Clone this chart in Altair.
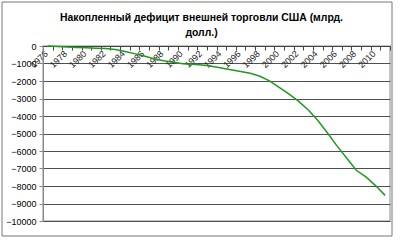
import altair as alt
import pandas as pd

years = list(range(1976, 2012))
deficit = [-6, -33, -63, -88, -107, -123, -148, -205, -314, -436, -575, -726,
           -841, -934, -1015, -1046, -1085, -1156, -1254, -1351, -1455, -1563,
           -1729, -1992, -2371, -2733, -3151, -3642, -4247, -4955, -5708, -6405,
           -7103, -7482, -7977, -8537]
y_ticks = list(range(-10000, 1, 1000))
label_years = list(range(1976, 2011, 2))
tick_years = list(range(1976, 2013))

df = pd.DataFrame({"year": years, "value": deficit})

W, H = 347, 175
FONT = "Liberation Sans"

base = alt.Chart(df).transform_calculate(xpos="datum.year + 0.5")

y = alt.Y("value:Q", scale=alt.Scale(domain=[-10000, 0], nice=False),
          axis=alt.Axis(values=y_ticks, format="d", title=None, grid=True,
                        gridColor="#505050", gridWidth=1, tickSize=4, labelPadding=3,
                        labelFontSize=9, labelColor="#000", labelFont=FONT,
                        domainColor="#888", tickColor="#888",
                        labelOverlap=False, labelFlush=False))

xscale = alt.Scale(domain=[1976, 2012], nice=False, zero=False)

line = base.mark_line(color="#1f9a1f", strokeWidth=1.5).encode(
    x=alt.X("xpos:Q", scale=xscale,
            axis=alt.Axis(values=tick_years, labels=False, title=None,
                          orient="bottom", offset=-H, tickSize=4,
                          domainColor="#444", tickColor="#444", grid=False)),
    y=y,
)

labels_layer = base.mark_line(opacity=0).encode(
    x=alt.X("xpos:Q", scale=xscale,
            axis=alt.Axis(values=label_years, format="d", ticks=False, domain=False,
                          title=None, orient="bottom", offset=-H, labelAngle=-45,
                          labelFontSize=9, labelFont=FONT, labelColor="#222",
                          labelPadding=3, grid=False, labelOverlap=False,
                          labelFlush=False)),
    y=y,
)

frame = alt.Chart(pd.DataFrame({"a": [0]})).mark_rect(
    fill=None, stroke="#777", strokeWidth=1
).encode(x=alt.value(-41), x2=alt.value(349), y=alt.value(-44), y2=alt.value(190))

chart = alt.layer(frame, line, labels_layer).resolve_axis(x="independent").properties(
    width=W, height=H,
    autosize="none",
    padding={"left": 43, "top": 46, "right": 10, "bottom": 19},
    background="white",
    title=alt.TitleParams(
        text=["Накопленный дефицит внешней торговли США (млрд.", "долл.)"],
        fontSize=10.4, fontWeight="bold", font=FONT, anchor="middle",
        dx=-15, dy=45, offset=8, lineHeight=15, color="#000",
    ),
).configure_view(stroke="#c4c4c4", strokeWidth=2)

chart.save("out.html", embed_options={"renderer": "svg", "actions": False})
